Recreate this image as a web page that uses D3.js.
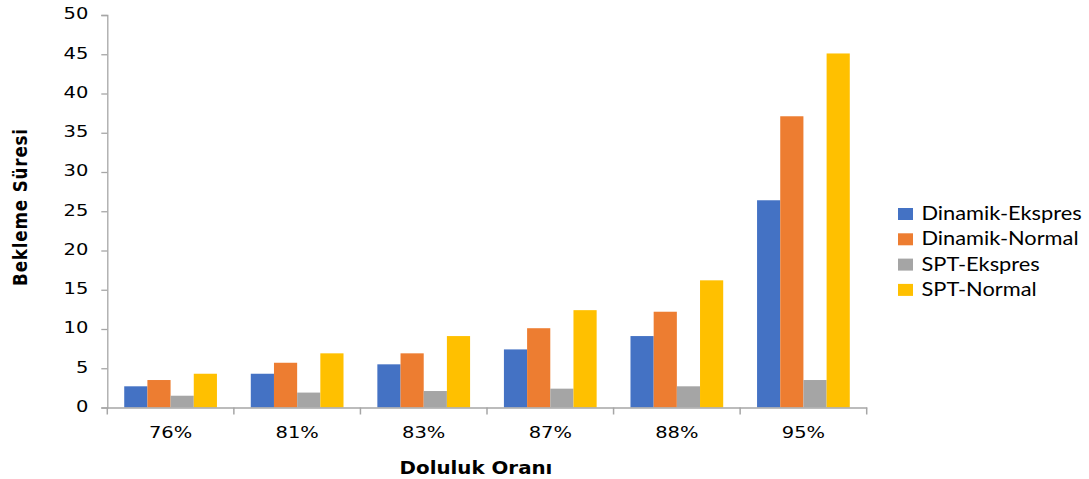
<!DOCTYPE html>
<html><head><meta charset="utf-8">
<script src="https://cdn.jsdelivr.net/npm/d3@7"></script>
<style>body{margin:0;background:#fff}svg{display:block}</style>
</head><body>
<svg id="c" width="1089" height="479"></svg>
<script>
const categories = ["76%", "81%", "83%", "87%", "88%", "95%"];
const seriesNames = ["Dinamik-Ekspres", "Dinamik-Normal", "SPT-Ekspres", "SPT-Normal"];
const dinamikEkspres = [2.7, 4.3, 5.5, 7.4, 9.1, 26.4];
const dinamikNormal = [3.5, 5.7, 6.9, 10.1, 12.2, 37.1];
const sptEkspres = [1.5, 1.9, 2.1, 2.4, 2.7, 3.5];
const sptNormal = [4.3, 6.9, 9.1, 12.4, 16.2, 45.1];
const yTicks = [0, 5, 10, 15, 20, 25, 30, 35, 40, 45, 50];
const colors = ["#4472C4", "#ED7D31", "#A5A5A5", "#FFC000"];
const seriesValues = [dinamikEkspres, dinamikNormal, sptEkspres, sptNormal];

(function () {
const svg = d3.select("#c");
const mLeft = 107.3, mRight = 866.7, mTop = 15, mBottom = 407.5;
const axisColor = "#a6a6a6";
const SX = 1.18; // horizontal stretch of text in the reference

const x = d3.scaleBand().domain(categories).range([mLeft, mRight]).paddingInner(0).paddingOuter(0);
const y = d3.scaleLinear().domain([0, 50]).range([mBottom, mTop]);
const inner = d3.scaleBand().domain(seriesNames).range([0, x.bandwidth()]).paddingOuter(0.73).paddingInner(0);

// bars
categories.forEach((c, i) => {
  seriesNames.forEach((s, j) => {
    const v = seriesValues[j][i];
    svg.append("rect")
      .attr("x", x(c) + inner(s))
      .attr("y", y(v))
      .attr("width", inner.bandwidth())
      .attr("height", y(0) - y(v))
      .attr("fill", colors[j]);
  });
});

function stretch(sel) {
  sel.each(function () {
    const t = d3.select(this);
    const tx = +(t.attr("x") || 0), ty = +(t.attr("y") || 0);
    t.attr("x", 0).attr("y", 0).attr("transform", `translate(${tx},${ty}) scale(${SX},1)`);
  });
}

// y axis
const yAxis = svg.append("g").attr("transform", `translate(${mLeft},0)`)
  .call(d3.axisLeft(y).tickValues(yTicks).tickSize(6).tickPadding(13));
yAxis.select(".domain").attr("stroke", axisColor).attr("stroke-width", 1.3);
yAxis.selectAll(".tick line").attr("stroke", axisColor).attr("stroke-width", 1.3);
yAxis.selectAll("text").attr("font-family", "DejaVu Sans").attr("font-size", 16.5).attr("fill", "#000")
  .attr("y", -1.5).call(stretch);

// x axis
const xAxis = svg.append("g").attr("transform", `translate(0,${mBottom})`)
  .call(d3.axisBottom(x).tickSize(0).tickPadding(18.3));
xAxis.select(".domain").attr("stroke", axisColor).attr("stroke-width", 1.5);
xAxis.selectAll("text").attr("font-family", "DejaVu Sans").attr("font-size", 16.5).attr("fill", "#000")
  .call(stretch);
const bounds = categories.map(c => x(c)).concat([x(categories[categories.length - 1]) + x.bandwidth()]);
svg.append("g").selectAll("line").data(bounds).join("line")
  .attr("x1", d => d).attr("x2", d => d)
  .attr("y1", mBottom).attr("y2", mBottom + 7)
  .attr("stroke", axisColor).attr("stroke-width", 1.5);

// axis titles
svg.append("text").attr("transform", `translate(476,474) scale(${SX},1)`).attr("text-anchor", "middle")
  .attr("font-family", "DejaVu Sans").attr("font-weight", "bold").attr("font-size", 16.8)
  .text("Doluluk Oranı");
svg.append("text").attr("transform", `translate(27,207) rotate(-90) scale(1,${SX})`).attr("text-anchor", "middle")
  .attr("font-family", "DejaVu Sans").attr("font-weight", "bold").attr("font-size", 16.8)
  .attr("letter-spacing", 0.8)
  .text("Bekleme Süresi");

// legend
const lg = svg.append("g").attr("transform", "translate(898,220)");
seriesNames.forEach((s, j) => {
  const g = lg.append("g").attr("transform", `translate(0,${j * 25.3})`);
  g.append("rect").attr("x", 0).attr("y", -12).attr("width", 15).attr("height", 12).attr("fill", colors[j]);
  g.append("text").attr("transform", `translate(23.5,0) scale(${SX},1)`)
    .attr("font-family", "Lato").attr("font-size", 18.5)
    .attr("fill", "#000").text(s);
});
})();
</script>
</body></html>
